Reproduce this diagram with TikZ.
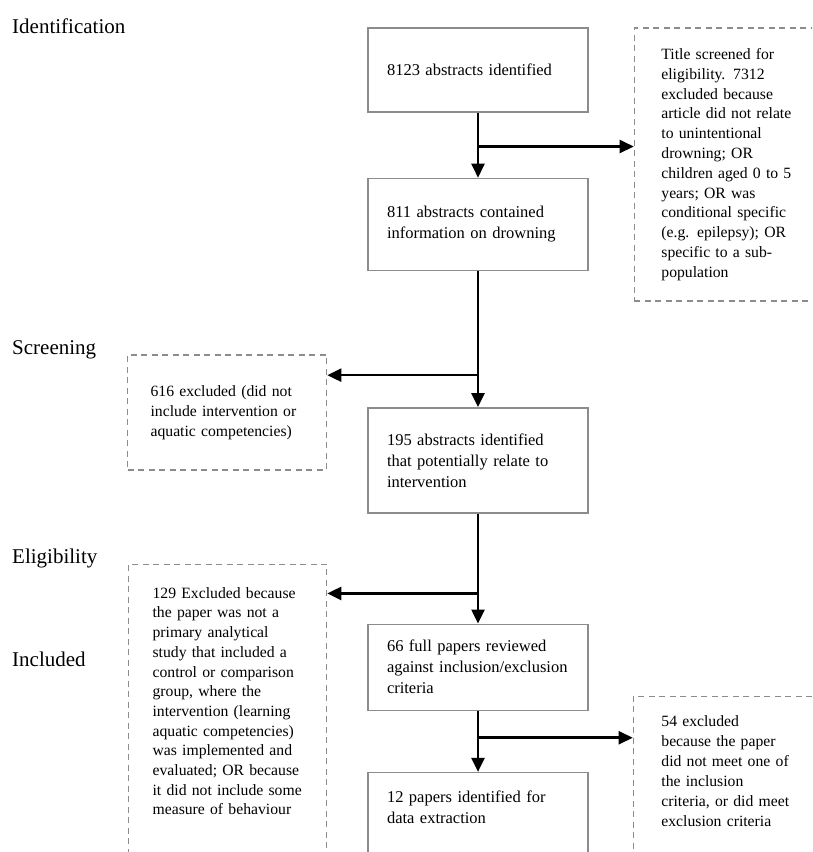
\documentclass[tikz,border=0pt]{standalone}
\usepackage{fontspec}
\setmainfont{Liberation Serif}
\usetikzlibrary{positioning,arrows.meta}

\begin{document}
\begin{tikzpicture}[x=1pt,y=-1pt,
    mainbox/.style={draw=gray!90,line width=1.4pt,align=left,text width=182pt,inner xsep=19pt,inner ysep=4pt,
      font=\fontsize{16.5}{21}\selectfont,execute at begin node={\hyphenpenalty=10000}},
    exclbox/.style={draw=gray!90,line width=1.4pt,dash pattern=on 6pt off 4.5pt,align=left,inner ysep=4pt,
      font=\fontsize{15.7}{20}\selectfont,execute at begin node={\hyphenpenalty=10000}},
    stage/.style={anchor=base west,inner sep=0pt,font=\fontsize{21}{25}\selectfont},
    flow/.style={line width=2.5pt,-{Stealth[inset=0pt,length=14pt,width=13pt]}}]

  \useasboundingbox (0,0) rectangle (812,852);
  \clip (0,0) rectangle (812,852);

  \node[stage] (s1) at (12,33) {Identification};
  \node[stage] (s2) at (12,354) {Screening};
  \node[stage] (s3) at (12,563) {Eligibility};
  \node[stage] (s4) at (12,666) {Included};

  \node[mainbox,minimum height=84pt] (a) at (478,70) {8123 abstracts identified};
  \node[mainbox,minimum height=92pt,below=65pt of a] (b) {811 abstracts contained\\information on drowning};
  \node[mainbox,minimum height=105pt,below=136pt of b] (c) {195 abstracts identified\\that potentially relate to\\intervention};
  \node[mainbox,minimum height=86pt,below=110pt of c] (d) {66 full papers reviewed\\against inclusion/exclusion\\criteria};
  \node[mainbox,text height=26pt,text depth=80pt,below=61pt of d] (e) {12 papers identified for\\data extraction};

  \node[exclbox,text width=200pt,inner xsep=27pt,minimum height=273pt,font=\fontsize{15.7}{19.8}\selectfont,
        below right=0pt and 45pt of a.north east] (r1) {Title screened for\\eligibility. 7312\\excluded because\\article did not relate\\to unintentional\\drowning; OR\\children aged 0 to 5\\years; OR was\\conditional specific\\(e.g. epilepsy); OR\\specific to a sub-\\population};
  \node[exclbox,text width=153pt,inner xsep=23pt,minimum height=115pt,
        below left=83pt and 40pt of b.south west] (l1) {616 excluded (did not\\include intervention or\\aquatic competencies)};
  \node[exclbox,text width=150pt,inner xsep=24pt,text height=30pt,text depth=300pt,font=\fontsize{15.7}{19.7}\selectfont,
        below left=50pt and 40pt of c.south west] (l2) {129 Excluded because\\the paper was not a\\primary analytical\\study that included a\\control or comparison\\group, where the\\intervention (learning\\aquatic competencies)\\was implemented and\\evaluated; OR because\\it did not include some\\measure of behaviour};
  \node[exclbox,text width=200pt,inner xsep=28pt,text height=26pt,text depth=200pt,
        below right=72pt and 44pt of d.north east] (r2) {54 excluded\\because the paper\\did not meet one of\\the inclusion\\criteria, or did meet\\exclusion criteria};

  %a>b
  \path (a.south) -- coordinate[pos=0.52] (p1) (b.north);
  \draw[flow] (a.south) -- (b.north);
  \draw[flow] (p1) -- (p1 -| r1.west);

  %b>c
  \path (b.south) -- coordinate[pos=0.765] (p2) (c.north);
  \draw[flow] (b.south) -- (c.north);
  \draw[flow] (p2) -- (p2 -| l1.east);

  %c>d
  \path (c.south) -- coordinate[pos=0.727] (p3) (d.north);
  \draw[flow] (c.south) -- (d.north);
  \draw[flow] (p3) -- (p3 -| l2.east);

  %d>e
  \path (d.south) -- coordinate[pos=0.44] (p4) (e.north);
  \draw[flow] (d.south) -- (e.north);
  \draw[flow] (p4) -- (p4 -| r2.west);

\end{tikzpicture}
\end{document}
